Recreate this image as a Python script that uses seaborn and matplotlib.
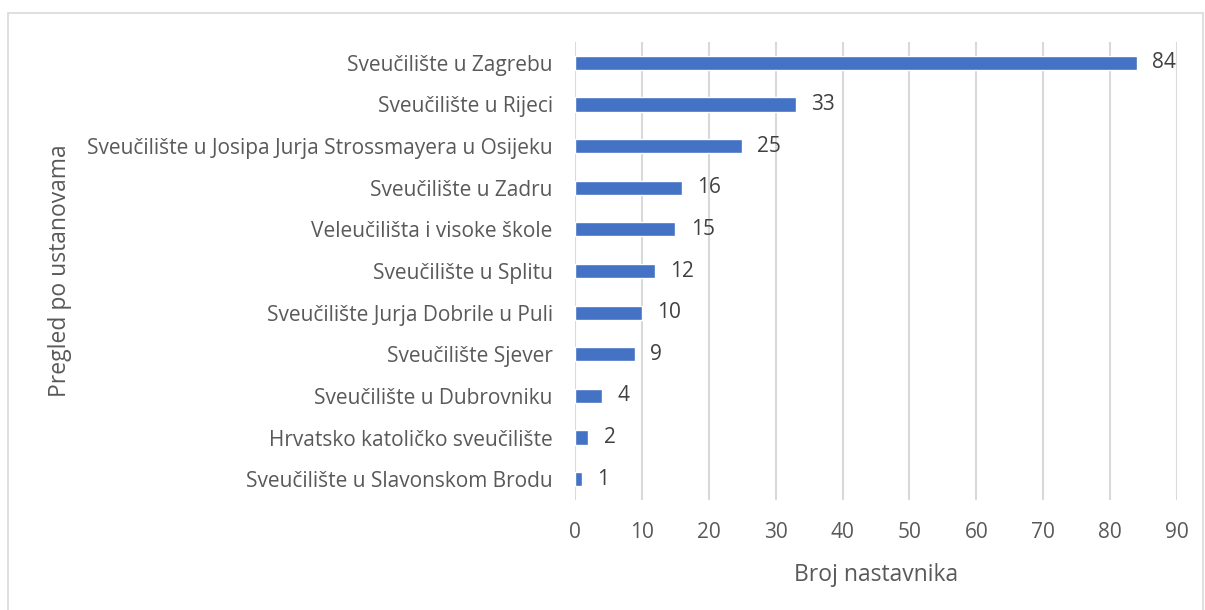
import matplotlib.pyplot as plt
import seaborn as sns
import pandas as pd
from matplotlib.patches import Rectangle

institutions = [
    "Sveučilište u Zagrebu",
    "Sveučilište u Rijeci",
    "Sveučilište u Josipa Jurja Strossmayera u Osijeku",
    "Sveučilište u Zadru",
    "Veleučilišta i visoke škole",
    "Sveučilište u Splitu",
    "Sveučilište Jurja Dobrile u Puli",
    "Sveučilište Sjever",
    "Sveučilište u Dubrovniku",
    "Hrvatsko katoličko sveučilište",
    "Sveučilište u Slavonskom Brodu",
]
teachers = [84, 33, 25, 16, 15, 12, 10, 9, 4, 2, 1]

df = pd.DataFrame({"ustanova": institutions, "broj": teachers})

sns.set_style("white")
plt.rcParams['font.family'] = ['Open Sans', 'DejaVu Sans']
text_color = "#595959"

fig = plt.figure(figsize=(12.05, 6.1), dpi=100)
ax = fig.add_axes([575 / 1205, 1 - 500 / 610, 602 / 1205, 458 / 610])

sns.barplot(data=df, x="broj", y="ustanova", order=institutions,
            color="#4472C4", width=0.34, saturation=1, ax=ax)

ax.set_xlim(0, 90)
ax.set_xticks(range(0, 91, 10))
ax.grid(axis="x", color="#D9D9D9", linewidth=1.5)
ax.set_axisbelow(True)
for s in ax.spines.values():
    s.set_visible(False)

ax.tick_params(axis="y", length=0, pad=16, labelsize=15, labelcolor=text_color)
ax.tick_params(axis="x", length=0, pad=16, labelsize=15, labelcolor=text_color)

ax.bar_label(ax.containers[0], padding=11, fontsize=15, color="#404040")

ax.set_xlabel("Broj nastavnika", fontsize=16.5, color=text_color, labelpad=14)
ax.set_ylabel("Pregled po ustanovama", fontsize=16.5, color=text_color)
ax.yaxis.set_label_coords((72 - 575) / 602, 0.5)

# light grey chart-area border
fig.patches.append(Rectangle((8 / 1205, -5 / 610), 1195 / 1205, 602 / 610,
                             transform=fig.transFigure, fill=False,
                             edgecolor="#D9D9D9", linewidth=1.2))

fig.savefig("out.png", dpi=100)
